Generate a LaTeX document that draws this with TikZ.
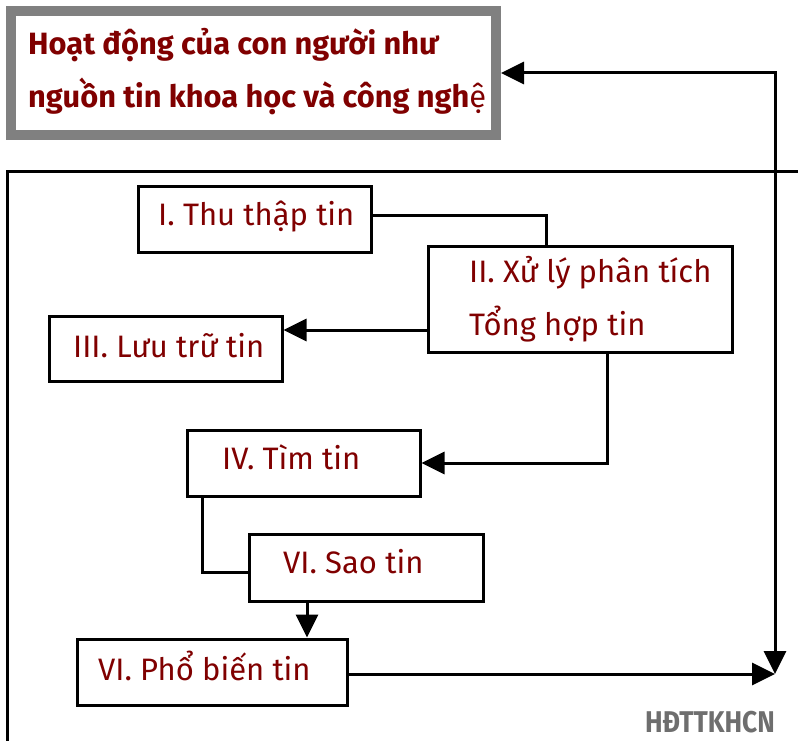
\documentclass[tikz,border=0pt]{standalone}
\usepackage{fontspec}
\setmainfont{Fira Sans}
\newfontfamily\markfont[FakeStretch=0.88]{Fira Sans}
\usetikzlibrary{arrows.meta}
\definecolor{maroon}{RGB}{128,0,0}
\definecolor{framegray}{RGB}{128,128,128}
\definecolor{markgray}{RGB}{110,110,110}
\tikzset{
  stagebox/.style={draw=black, line width=3pt, fill=white, inner sep=0pt},
  stagetext/.style={anchor=base west, inner sep=0pt, text=maroon, font=\fontsize{31}{31}\selectfont},
  titletext/.style={anchor=base west, inner sep=0pt, text=maroon, font=\fontsize{30.8}{30.8}\selectfont\bfseries},
  link/.style={draw=black, line width=3pt},
  flow/.style={link, -{Triangle[length=23pt,width=22pt]}},
  both/.style={link, {Triangle[length=23pt,width=22pt]}-{Triangle[length=23pt,width=22pt]}}
}
\begin{document}
\begin{tikzpicture}[x=1pt, y=-1pt]
  \useasboundingbox (0,0) rectangle (798,741);

  % heading box with the thick grey border
  \node[draw=framegray, line width=10pt, fill=white, minimum width=485pt, minimum height=124pt, inner sep=0pt] (tb) at (253.5,73) {};
  \node[titletext] (tl1) at (28,55) {Hoạt động của con người như};
  \node[titletext] (tl2) at (28,108) {nguồn tin khoa học và công ngh{\mdseries ệ}};

  % open frame around the stages
  \coordinate (fl) at (7,741);
  \coordinate (fc) at (7,172);
  \coordinate (fr) at (798,172);
  \draw[line width=3pt] (fl) -- (fc) -- (fr);

  % stage boxes
  \node[stagebox, minimum width=233pt, minimum height=66pt] (b1) at (254.5,219) {};
  \node[stagebox, minimum width=304pt, minimum height=106pt] (b2) at (580,299) {};
  \node[stagebox, minimum width=233pt, minimum height=65pt] (b3) at (165.5,348.5) {};
  \node[stagebox, minimum width=233pt, minimum height=66pt] (b4) at (303.5,463) {};
  \node[stagebox, minimum width=234pt, minimum height=67pt] (b5) at (366,567.5) {};
  \node[stagebox, minimum width=270pt, minimum height=66pt] (b6) at (212,672) {};

  % stage labels
  \node[stagetext] (t1) at (158,225) {I. Thu thập tin};
  \node[stagetext] (t2a) at (469,282) {II. Xử lý phân tích};
  \node[stagetext] (t2b) at (469,335) {Tổng hợp tin};
  \node[stagetext] (t3) at (73,357) {III. Lưu trữ tin};
  \node[stagetext] (t4) at (222,469) {IV. Tìm tin};
  \node[stagetext] (t5) at (283,573) {VI. Sao tin};
  \node[stagetext] (t6) at (98,680) {VI. Phổ biến tin};

  % meeting point of the two return arrows
  \coordinate (m) at (775,674);

  % connectors between stages
  \draw[link] ([yshift=4pt]b1.east) -| ([xshift=-34pt]b2.north);
  \draw[flow] ([yshift=-31pt]b2.west) -- ([yshift=-31pt]b2.west -| b3.east);
  \draw[flow] ([xshift=27pt]b2.south) |- (b4.east);
  \draw[link] ([xshift=-101.5pt]b4.south) |- ([yshift=-4.5pt]b5.west);
  \draw[flow] ([xshift=-59pt]b5.south) -- ([xshift=-59pt]b5.south |- b6.north);
  \draw[flow] (b6.east |- m) -- (m);
  \draw[both] (tb.east) -| (m);

  % corner mark
  \node[anchor=base east, inner sep=0pt, text=markgray, font=\markfont\fontsize{30}{30}\selectfont\bfseries] (mark) at (775,732) {HĐTTKHCN};
\end{tikzpicture}
\end{document}
